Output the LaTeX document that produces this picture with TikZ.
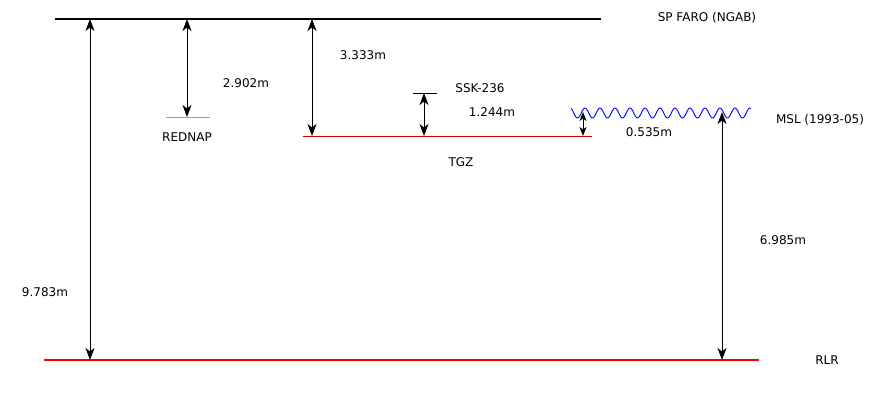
\documentclass[tikz,border=0pt]{standalone}
\usepackage{fontspec}
\setmainfont{DejaVu Sans}
\usetikzlibrary{positioning,arrows.meta}
\definecolor{datum}{HTML}{FF0000}
\definecolor{tide}{HTML}{CC0000}
\definecolor{napgreen}{HTML}{7FBF1F}
\definecolor{sea}{HTML}{0000FF}

\begin{document}
\begin{tikzpicture}[x=1pt,y=-1pt, every node/.style={font=\fontsize{12}{14}\selectfont, inner sep=0pt},
  level/.style={line width=1.7pt},
  tip/.tip={Stealth[length=12pt,width=9pt,inset=3.5pt]},
  small tip/.tip={Stealth[length=9pt,width=7pt,inset=2.5pt]},
  dist/.style={draw=black, line width=1pt, tip-tip},
  small dist/.style={draw=black, line width=1pt, small tip-small tip},
  wave/.style={draw=sea, line width=.9pt},
]
  \useasboundingbox (0,0) rectangle (875,400);

  % Reference levels
  \draw[level, black] (55,19) -- (601,19);
  \node (faro) at (707,18) {SP FARO (NGAB)};
  \draw[level, datum] (44,360) -- (759,360);
  \node (rlr) at (827,360) {RLR};
  \draw[tide, line width=1pt] (303,136) -- (592,136);
  \node (tgz) at (461,162) {TGZ};
  \draw[napgreen, line width=.8pt] (166,117) -- (210,117);
  \node (rednap) at (187,137) {REDNAP};
  \draw[black, line width=.8pt] (413,93) -- (437,93);
  \node (ssk) at (480,88) {SSK-236};
  \draw[wave] plot[domain=571:751, samples=241, smooth] (\x, {113-5*cos(24*(\x-585))});
  \node (msl) at (820,120) {MSL (1993-05)};

  % Arrow end points
  \coordinate (a1) at (90,19);  \coordinate (b1) at (90,360);
  \coordinate (a2) at (187,19); \coordinate (b2) at (187,117);
  \coordinate (a3) at (312,19); \coordinate (b3) at (312,136);
  \coordinate (a4) at (424,93); \coordinate (b4) at (424,136);
  \coordinate (a5) at (583,112); \coordinate (b5) at (583,136);
  \coordinate (a6) at (722,112); \coordinate (b6) at (722,360);

  % Distances
  \draw[dist] (a1) -- (b1);
  \draw[dist] (a2) -- (b2);
  \draw[dist] (a3) -- (b3);
  \draw[dist] (a4) -- (b4);
  \draw[small dist] (a5) -- (b5);
  \draw[dist] (a6) -- (b6);
  \node (d1) at (45,292) {9.783m};
  \node (d2) at (246,83) {2.902m};
  \node (d3) at (363,55) {3.333m};
  \node (d4) at (492,112) {1.244m};
  \node (d5) at (649,132) {0.535m};
  \node (d6) at (783,240) {6.985m};
\end{tikzpicture}
\end{document}
